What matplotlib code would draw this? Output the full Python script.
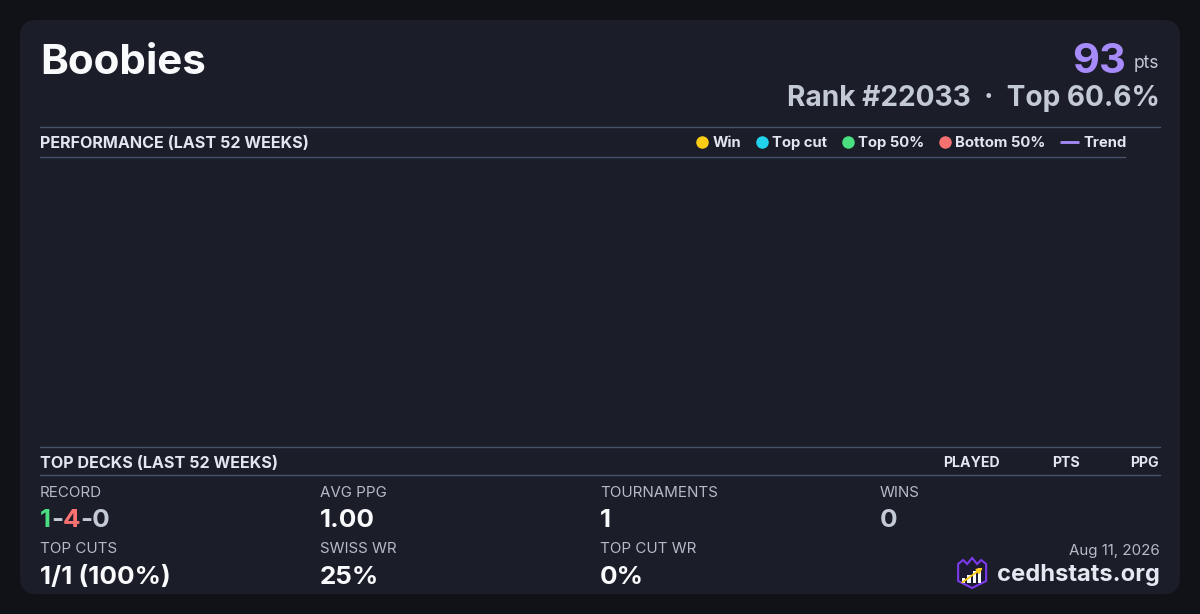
import matplotlib
matplotlib.use("Agg")
import matplotlib.pyplot as plt
from matplotlib.patches import FancyBboxPatch, Polygon, Rectangle, FancyArrowPatch

plt.rcParams['font.family'] = ['Inter', 'DejaVu Sans']

# ---- data -------------------------------------------------------------
player_name = "Boobies"
points = 93
rank = 22033
top_pct = 60.6

legend_labels = ["Win", "Top cut", "Top 50%", "Bottom 50%", "Trend"]
legend_colors = ["#facc15", "#22d3ee", "#4ade80", "#f87171", "#a78bfa"]

# no tournaments plotted in the last 52 weeks
perf_weeks = []
perf_points = []

deck_columns = ["PLAYED", "PTS", "PPG"]

record_wins, record_losses, record_draws = 1, 4, 0
row1_labels = ["RECORD", "AVG PPG", "TOURNAMENTS", "WINS"]
row1_values = [None, "1.00", "1", "0"]
row2_labels = ["TOP CUTS", "SWISS WR", "TOP CUT WR"]
row2_values = ["1/1 (100%)", "25%", "0%"]
footer_date = "Aug 11, 2026"
footer_site = "cedhstats.org"

# ---- colours ----------------------------------------------------------
BG = "#111217"
CARD = "#1b1d29"
RULE = "#46536b"
WHITE = "#f8fafc"
HEAD = "#e2e6ee"
LABEL = "#b6bbc7"
MUTED = "#c3c9d5"

W, H = 1200, 614
fig = plt.figure(figsize=(W / 100, H / 100), dpi=100, facecolor=BG)
ax = fig.add_axes([0, 0, 1, 1])
ax.set_xlim(0, W)
ax.set_ylim(H, 0)
ax.axis('off')

ax.add_patch(FancyBboxPatch((20, 20), 1160, 574,
                            boxstyle="round,pad=0,rounding_size=16",
                            facecolor=CARD, edgecolor='none'))

renderer = fig.canvas.get_renderer()


def text_width(t):
    return t.get_window_extent(renderer).width


# ---- header -----------------------------------------------------------
ax.text(40, 74, player_name, fontsize=30.3, fontweight='bold', color=WHITE,
        va='baseline', ha='left')
pts_t = ax.text(1159, 68, "pts", fontsize=12.5, color=MUTED, va='baseline', ha='right')
ax.text(1159 - text_width(pts_t) - 8, 73, str(points), fontsize=30, fontweight='bold',
        color="#a78bfa", va='baseline', ha='right')
ax.text(1160, 106, f"Rank #{rank}  \u00b7  Top {top_pct}%", fontsize=20.2,
        fontweight='bold', color=MUTED, va='baseline', ha='right')

# ---- performance section ---------------------------------------------
ax.plot([40, 1160], [126.5, 126.5], color=RULE, lw=1)
ax.plot([40, 1125], [156.5, 156.5], color=RULE, lw=1)
ax.text(40, 148, "PERFORMANCE (LAST 52 WEEKS)", fontsize=11.6, fontweight='bold',
        color=HEAD, va='baseline')

x = 696
for lab, col in zip(legend_labels, legend_colors):
    if lab == "Trend":
        ax.plot([x, x + 19], [142, 142], color=col, lw=2, solid_capstyle='butt')
        x += 23
    else:
        ax.plot([x + 6], [142], marker='o', ms=9, color=col, mec='none')
        x += 16.5
    t = ax.text(x, 147, lab, fontsize=10.7, fontweight='bold', color=HEAD, va='baseline')
    x += text_width(t) + 14.5

# empty chart area
perf_ax = fig.add_axes([40 / W, 1 - 440 / H, 1085 / W, 280 / H])
perf_ax.set_facecolor('none')
perf_ax.axis('off')
if perf_weeks:
    perf_ax.plot(perf_weeks, perf_points, color=legend_colors[-1])

# ---- top decks section -----------------------------------------------
ax.plot([40, 1160], [446.5, 446.5], color=RULE, lw=1)
ax.plot([40, 1160], [474.5, 474.5], color=RULE, lw=1)
ax.text(40, 468, "TOP DECKS (LAST 52 WEEKS)", fontsize=11.6, fontweight='bold',
        color=HEAD, va='baseline')
col_right = [1000, 1080, 1159]
for lab, xr in zip(deck_columns, col_right):
    ax.text(xr, 467, lab, fontsize=10.2, fontweight='bold', color=HEAD,
            va='baseline', ha='right')

# ---- stats ------------------------------------------------------------
col_x = [40, 320, 600, 880]
for i, (lab, val) in enumerate(zip(row1_labels, row1_values)):
    ax.text(col_x[i], 497, lab, fontsize=10.9, color=LABEL, va='baseline')
    if val is not None:
        ax.text(col_x[i], 527, val, fontsize=18.7, fontweight='bold',
                color=MUTED if lab == "WINS" else WHITE, va='baseline')

# record with coloured parts
xr = col_x[0]
for part, col in [(str(record_wins), "#4ade80"), ("-", MUTED),
                  (str(record_losses), "#f87171"), (f"-{record_draws}", MUTED)]:
    t = ax.text(xr, 527, part, fontsize=18.7, fontweight='bold', color=col, va='baseline')
    xr += text_width(t)

for i, (lab, val) in enumerate(zip(row2_labels, row2_values)):
    ax.text(col_x[i], 553, lab, fontsize=10.9, color=LABEL, va='baseline')
    ax.text(col_x[i], 584, val, fontsize=18.7, fontweight='bold', color=WHITE, va='baseline')

# ---- footer -----------------------------------------------------------
ax.text(1160, 555, footer_date, fontsize=10.9, color=LABEL, va='baseline', ha='right')
site_t = ax.text(1160, 581, footer_site, fontsize=17.1, fontweight='bold', color="#e5e8ef",
                 va='baseline', ha='right')
lx = 1160 - text_width(site_t) - 11 - 28

# logo: crowned shield with bars and a rising arrow
shield = [(lx, 564), (lx + 5, 560), (lx + 9, 564), (lx + 14, 558), (lx + 19, 564),
          (lx + 23, 560), (lx + 28, 564), (lx + 28, 581), (lx + 14, 588), (lx, 581)]
ax.add_patch(Polygon(shield, closed=True, facecolor="#1c1a30", edgecolor="#7c3aed", lw=1.5))
for k, top in enumerate([578, 575, 571, 568]):
    ax.add_patch(Rectangle((lx + 4 + k * 5.3, top), 3.2, 583 - top,
                           facecolor=WHITE, edgecolor='none'))
ax.add_patch(FancyArrowPatch((lx + 2, 584), (lx + 27, 566), arrowstyle='-|>',
                             mutation_scale=8, color="#facc15", lw=1.3))

fig.savefig("out.png", dpi=100, facecolor=BG)
